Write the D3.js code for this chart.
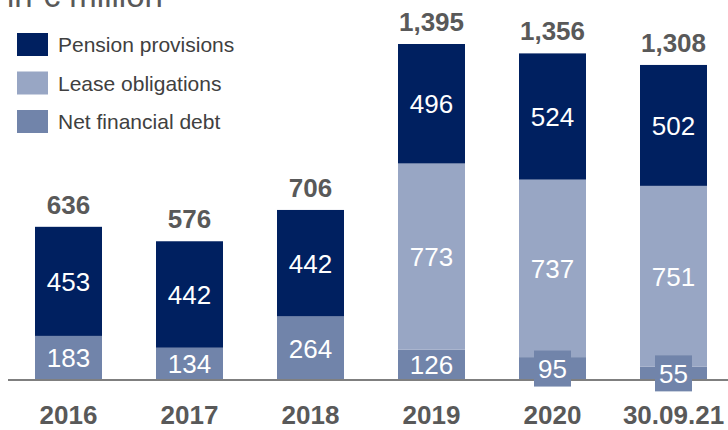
<!DOCTYPE html>
<html>
<head>
<meta charset="utf-8">
<script src="https://cdn.jsdelivr.net/npm/d3@7"></script>
<style>
  html, body { margin: 0; padding: 0; background: #fff; }
  svg { display: block; font-family: "Liberation Sans", Arial, sans-serif; }
</style>
</head>
<body>
<svg id="chart" width="728" height="430"></svg>
<script>
// Debt components in € million
const periods = ["2016", "2017", "2018", "2019", "2020", "30.09.21"];
const netFinancialDebt = [183, 134, 264, 126, 95, 55];
const leaseObligations = [0, 0, 0, 773, 737, 751];
const pensionProvisions = [453, 442, 442, 496, 524, 502];
const totals = [636, 576, 706, 1395, 1356, 1308];

const seriesKeys = ["nfd", "lease", "pension"];
const seriesNames = { pension: "Pension provisions", lease: "Lease obligations", nfd: "Net financial debt" };
const colors = { pension: "#002060", lease: "#98a6c4", nfd: "#7184aa" };

const rows = periods.map((p, i) => ({
  period: p,
  nfd: netFinancialDebt[i],
  lease: leaseObligations[i],
  pension: pensionProvisions[i],
  total: totals[i]
}));

const svg = d3.select("#chart");
const baseline = 380;

// Band scale: 121px step, 67px bars, first bar at x = 35
const x = d3.scaleBand()
  .domain(periods)
  .range([8, 734])
  .paddingInner(54 / 121)
  .paddingOuter(27 / 121);
const bw = x.bandwidth();

const y = d3.scaleLinear().domain([0, 1395]).range([baseline, 44]);

// Title (partly above the top edge)
svg.append("text")
  .attr("x", 7).attr("y", 7)
  .attr("font-size", 33).attr("fill", "#595959")
  .text("in € million");

// Stacked bars
const stack = d3.stack().keys(seriesKeys)(rows);

svg.append("g").selectAll("g")
  .data(stack)
  .join("g")
  .attr("fill", d => colors[d.key])
  .selectAll("rect")
  .data(d => d.filter(s => s[1] - s[0] > 0))
  .join("rect")
  .attr("x", d => x(d.data.period))
  .attr("width", bw)
  .attr("y", d => y(d[1]))
  .attr("height", d => y(d[0]) - y(d[1]));

// Axis line
svg.append("line")
  .attr("x1", 8).attr("x2", 728)
  .attr("y1", baseline).attr("y2", baseline)
  .attr("stroke", "#7f7f7f").attr("stroke-width", 2);

// Segment labels
const labelG = svg.append("g");
stack.forEach(layer => {
  layer.forEach(s => {
    const v = s[1] - s[0];
    if (v <= 0) return;
    const cx = x(s.data.period) + bw / 2;
    const cy = (y(s[0]) + y(s[1])) / 2;
    const small = (y(s[0]) - y(s[1])) < 30;
    if (small) {
      labelG.append("rect")
        .attr("x", cx - 18.5).attr("y", cy - 18)
        .attr("width", 37).attr("height", 36)
        .attr("fill", colors[layer.key]);
    }
    labelG.append("text")
      .attr("x", cx).attr("y", cy)
      .attr("dy", "0.36em")
      .attr("text-anchor", "middle")
      .attr("font-size", 26)
      .attr("fill", "#fff")
      .text(v);
  });
});

// Totals
svg.append("g").selectAll("text")
  .data(rows)
  .join("text")
  .attr("x", d => x(d.period) + bw / 2)
  .attr("y", d => y(d.total) - 13)
  .attr("text-anchor", "middle")
  .attr("font-size", 26)
  .attr("font-weight", "bold")
  .attr("fill", "#595959")
  .text(d => d3.format(",")(d.total));

// Period labels
svg.append("g").selectAll("text")
  .data(rows)
  .join("text")
  .attr("x", d => x(d.period) + bw / 2)
  .attr("y", 424)
  .attr("text-anchor", "middle")
  .attr("font-size", 26)
  .attr("font-weight", "bold")
  .attr("fill", "#595959")
  .text(d => d.period);

// Legend
const legendKeys = ["pension", "lease", "nfd"];
const legend = svg.append("g").selectAll("g")
  .data(legendKeys)
  .join("g")
  .attr("transform", (d, i) => `translate(17, ${33 + i * 38.5})`);
legend.append("rect")
  .attr("width", 31).attr("height", 23)
  .attr("fill", d => colors[d]);
legend.append("text")
  .attr("x", 41).attr("y", 11.5)
  .attr("dy", "0.36em")
  .attr("font-size", 21)
  .attr("fill", "#404040")
  .text(d => seriesNames[d]);
</script>
</body>
</html>
